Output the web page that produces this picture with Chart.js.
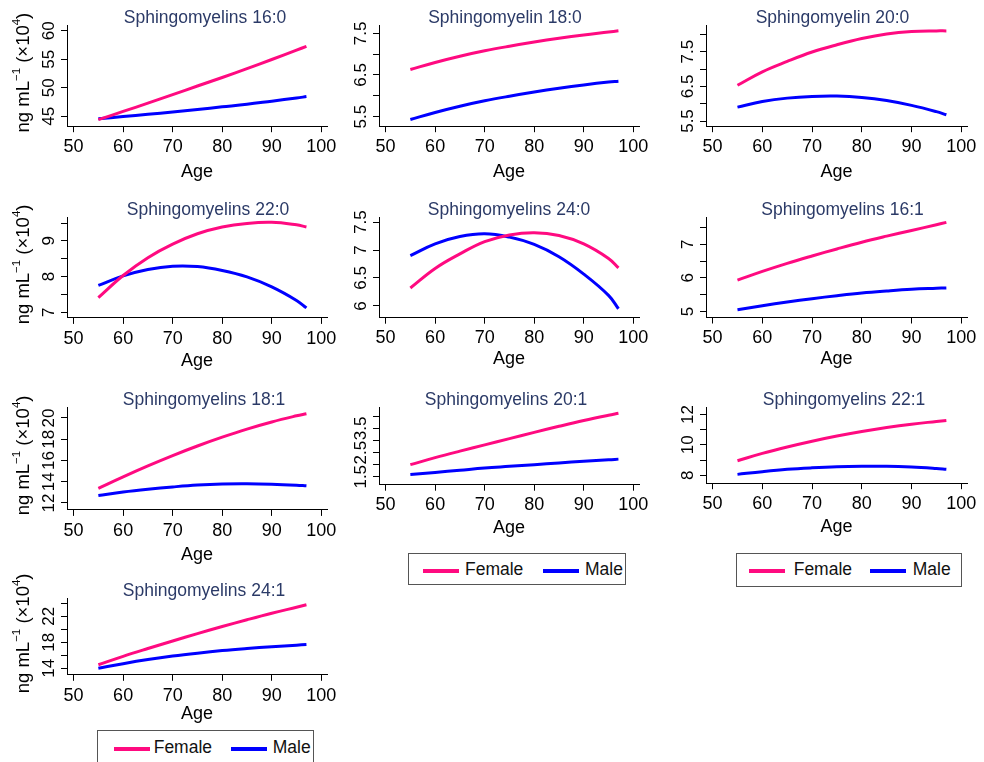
<!DOCTYPE html>
<html><head><meta charset="utf-8">
<script src="https://cdn.jsdelivr.net/npm/chart.js@4.4.1/dist/chart.umd.min.js"></script>
<style>
html,body{margin:0;padding:0;background:#fff;}
#wrap{position:relative;width:984px;height:762px;overflow:hidden;background:#fff;}
#wrap canvas{position:absolute;}
.legend{position:absolute;border:1px solid #555;background:#fff;box-sizing:border-box;font-family:"Liberation Sans",Arial,sans-serif;font-size:17.5px;color:#111;}
.legend .ln{position:absolute;height:4px;width:36px;}
.legend .tx{position:absolute;line-height:20px;white-space:nowrap;}
</style></head>
<body><div id="wrap"></div>
<script>
// ---------- data ----------
const ages = [55, 60, 65, 70, 75, 80, 85, 90, 95, 97];
const xTicks = [50, 60, 70, 80, 90, 100];
const seriesNames = ["Female", "Male"];
const titles = ["Sphingomyelins 16:0", "Sphingomyelin 18:0", "Sphingomyelin 20:0",
  "Sphingomyelins 22:0", "Sphingomyelins 24:0", "Sphingomyelins 16:1",
  "Sphingomyelins 18:1", "Sphingomyelins 20:1", "Sphingomyelins 22:1", "Sphingomyelins 24:1"];

const female_16_0 = [44.4, 45.85, 47.3, 48.8, 50.3, 51.8, 53.35, 54.95, 56.6, 57.25];
const male_16_0   = [44.55, 44.95, 45.35, 45.75, 46.2, 46.65, 47.1, 47.65, 48.2, 48.45];
const female_18_0 = [6.63, 6.80, 6.95, 7.08, 7.19, 7.29, 7.38, 7.46, 7.53, 7.56];
const male_18_0   = [5.43, 5.60, 5.75, 5.88, 5.99, 6.09, 6.18, 6.26, 6.33, 6.35];
const female_20_0 = [6.53, 6.92, 7.22, 7.49, 7.70, 7.88, 8.01, 8.08, 8.10, 8.10];
const male_20_0   = [5.90, 6.06, 6.16, 6.21, 6.22, 6.18, 6.09, 5.95, 5.77, 5.68];
const female_22_0 = [7.41, 8.03, 8.53, 8.91, 9.20, 9.39, 9.49, 9.52, 9.45, 9.39];
const male_22_0   = [7.75, 8.02, 8.20, 8.29, 8.28, 8.17, 7.99, 7.71, 7.33, 7.12];
const female_24_0 = [6.32, 6.67, 6.93, 7.15, 7.27, 7.31, 7.26, 7.11, 6.85, 6.68];
const male_24_0   = [6.90, 7.11, 7.24, 7.29, 7.23, 7.10, 6.88, 6.57, 6.19, 5.95];
const female_16_1 = [5.93, 6.19, 6.43, 6.65, 6.86, 7.06, 7.24, 7.41, 7.58, 7.65];
const male_16_1   = [5.05, 5.17, 5.28, 5.38, 5.47, 5.55, 5.61, 5.66, 5.69, 5.70];
const female_18_1 = [13.38, 14.46, 15.49, 16.46, 17.36, 18.19, 18.95, 19.62, 20.20, 20.40];
const male_18_1   = [12.71, 13.03, 13.29, 13.51, 13.69, 13.79, 13.81, 13.77, 13.68, 13.62];
const female_20_1 = [2.00, 2.29, 2.56, 2.82, 3.08, 3.34, 3.59, 3.83, 4.05, 4.13];
const male_20_1   = [1.59, 1.68, 1.77, 1.86, 1.93, 2.00, 2.07, 2.14, 2.20, 2.23];
const female_22_1 = [8.96, 9.44, 9.86, 10.24, 10.58, 10.88, 11.14, 11.36, 11.54, 11.61];
const male_22_1   = [8.06, 8.24, 8.39, 8.49, 8.56, 8.59, 8.59, 8.54, 8.45, 8.40];
const female_24_1 = [14.53, 15.83, 17.03, 18.19, 19.32, 20.41, 21.45, 22.45, 23.38, 23.75];
const male_24_1   = [14.0, 14.70, 15.33, 15.87, 16.32, 16.71, 17.03, 17.31, 17.55, 17.65];

const femaleSeries = [female_16_0, female_18_0, female_20_0, female_22_0, female_24_0, female_16_1, female_18_1, female_20_1, female_22_1, female_24_1];
const maleSeries   = [male_16_0, male_18_0, male_20_0, male_22_0, male_24_0, male_16_1, male_18_1, male_20_1, male_22_1, male_24_1];

// y tick marks and labelled ticks
const yTickMarks = [[45,50,55,60],[5.5,6,6.5,7,7.5],[5.5,6,6.5,7,7.5,8],[7,7.5,8,8.5,9,9.5],[6,6.5,7,7.5],
  [5,5.5,6,6.5,7,7.5],[12,14,16,18,20],[1.5,2,2.5,3,3.5,4],[8,9,10,11,12],[14,16,18,20,22,24]];
const yTickLabels = [[45,50,55,60],[5.5,6.5,7.5],[5.5,6.5,7.5],[7,8,9],[6,6.5,7,7.5],
  [5,6,7],[12,14,16,18,20],[1.5,2.5,3.5],[8,10,12],[14,18,22]];
const yMin = [43.26, 5.27, 5.35, 6.84, 5.79, 4.82, 11.35, 1.17, 7.48, 12.99];
const yMax = [61.0, 7.70, 8.27, 9.67, 7.59, 7.81, 21.03, 4.39, 12.49, 24.8];
const xMin = 48.67, xMax = 101.15;
const yTitleParts = [["ng mL", false], ["\u22121", true], [" (\u00d710", false], ["4", true], [")", false]];

// ---------- layout ----------
const plotBoxes = [[67,25,327,124],[379,25,639,124],[706,25,967,124],
  [67,217,327,315],[379,217,639,315],[706,217,967,315],
  [67,407,327,507],[379,407,639,482],[706,407,967,481],[67,598,327,672]];
const titleDx = [8,-4,-4,11,0,6,7,-3,7.5,7];
const ageOffset = [46,46,46,43.3,41.5,41.7,45.3,43.5,44,39.4];
const showYTitle = [true,false,false,true,false,false,true,false,false,true];

const FEMALE = '#FF0A80', MALE = '#0000FF', TITLE = '#2B3A67';
const FONT = '"Liberation Sans", Arial, sans-serif';
Chart.defaults.font.family = FONT;

function makeDeco(o) {
  return {
    id: 'deco',
    afterDraw(chart) {
      const ctx = chart.ctx, ca = chart.chartArea, ys = chart.scales.y;
      ctx.save();
      ctx.textAlign = 'center'; ctx.textBaseline = 'middle';
      ctx.fillStyle = TITLE; ctx.font = '17.5px ' + FONT;
      ctx.fillText(o.title, (ca.left + ca.right) / 2 + o.dx, ca.top - 7);
      ctx.fillStyle = '#000'; ctx.font = '17px ' + FONT;
      for (const v of o.labels) {
        const py = ys.getPixelForValue(v);
        ctx.save(); ctx.translate(ca.left - 17.5, py); ctx.rotate(-Math.PI / 2);
        ctx.fillText(String(v), 0, 0); ctx.restore();
      }
      if (o.yTitle) {
        const main = '18.5px ' + FONT, sup = '11.5px ' + FONT;
        let total = 0; const w = [];
        for (const [t, s] of yTitleParts) { ctx.font = s ? sup : main; const m = ctx.measureText(t).width; w.push(m); total += m; }
        ctx.translate(ca.left - 43, (ca.top + ca.bottom) / 2 - 3);
        ctx.rotate(-Math.PI / 2);
        ctx.textAlign = 'left';
        let x = -total / 2;
        yTitleParts.forEach(([t, s], i) => {
          ctx.font = s ? sup : main;
          ctx.fillText(t, x, s ? -7 : 0);
          x += w[i];
        });
      }
      ctx.restore();
    }
  };
}

const wrap = document.getElementById('wrap');
const LEFT = 60, TOP = 30, RIGHT = 20;
plotBoxes.forEach((b, i) => {
  const [L, T, R, B] = b;
  const H = ageOffset[i] + 10.8;
  const cv = document.createElement('canvas');
  cv.width = (R - L) + LEFT + RIGHT;
  cv.height = TOP + (B - T) + Math.ceil(H) + 2;
  cv.style.left = (L - LEFT) + 'px';
  cv.style.top = (T - TOP) + 'px';
  wrap.appendChild(cv);
  const deco = makeDeco({ title: titles[i], dx: titleDx[i], labels: yTickLabels[i], yTitle: showYTitle[i] });
  new Chart(cv, {
    type: 'line',
    data: {
      datasets: [
        { label: seriesNames[0], data: ages.map((a, k) => ({ x: a, y: femaleSeries[i][k] })), borderColor: FEMALE, borderWidth: 3, pointRadius: 0, tension: 0.4, fill: false },
        { label: seriesNames[1], data: ages.map((a, k) => ({ x: a, y: maleSeries[i][k] })), borderColor: MALE, borderWidth: 3, pointRadius: 0, tension: 0.4, fill: false }
      ]
    },
    options: {
      responsive: false, animation: false, devicePixelRatio: 1,
      layout: { padding: { left: 0, top: TOP, right: RIGHT, bottom: 0 } },
      plugins: { legend: { display: false }, title: { display: false }, tooltip: { enabled: false } },
      scales: {
        x: {
          type: 'linear', min: xMin, max: xMax,
          afterBuildTicks: s => { s.ticks = xTicks.map(v => ({ value: v })); },
          afterFit: s => { s.height = H; },
          ticks: { autoSkip: false, maxRotation: 0, minRotation: 0, color: '#000', font: { size: 18 }, padding: 4 },
          grid: { drawOnChartArea: false, drawTicks: true, tickLength: 6, color: '#000', lineWidth: 1 },
          border: { display: true, color: '#000', width: 1 },
          title: { display: true, text: 'Age', color: '#000', font: { size: 18 }, padding: { top: 0, bottom: 0 } }
        },
        y: {
          type: 'linear', min: yMin[i], max: yMax[i],
          afterBuildTicks: s => { s.ticks = yTickMarks[i].map(v => ({ value: v })); },
          afterFit: s => { s.width = LEFT; },
          ticks: { display: false },
          grid: { drawOnChartArea: false, drawTicks: true, tickLength: 6, color: '#000', lineWidth: 1 },
          border: { display: true, color: '#000', width: 1 }
        }
      }
    },
    plugins: [deco]
  });
});

// ---------- legends (HTML) ----------
const legendBoxes = [
  { l: 408, t: 553, w: 218, h: 32, items: [13.7, 56, 134.3, 176], lineY: 15, textY: 5 },
  { l: 736, t: 553, w: 226, h: 34, items: [12.3, 56.7, 133.3, 175.7], lineY: 15, textY: 5 },
  { l: 97, t: 730, w: 217, h: 40, items: [15.7, 55.7, 133, 174.7], lineY: 16.3, textY: 5.5 }
];
legendBoxes.forEach(lb => {
  const d = document.createElement('div');
  d.className = 'legend';
  Object.assign(d.style, { left: lb.l + 'px', top: lb.t + 'px', width: lb.w + 'px', height: lb.h + 'px' });
  const colors = [FEMALE, MALE];
  [0, 1].forEach(k => {
    const ln = document.createElement('div'); ln.className = 'ln';
    Object.assign(ln.style, { left: lb.items[k * 2] + 'px', top: lb.lineY + 'px', background: colors[k] });
    const tx = document.createElement('div'); tx.className = 'tx'; tx.textContent = seriesNames[k];
    Object.assign(tx.style, { left: lb.items[k * 2 + 1] + 'px', top: lb.textY + 'px' });
    d.appendChild(ln); d.appendChild(tx);
  });
  wrap.appendChild(d);
});
</script>
</body></html>
